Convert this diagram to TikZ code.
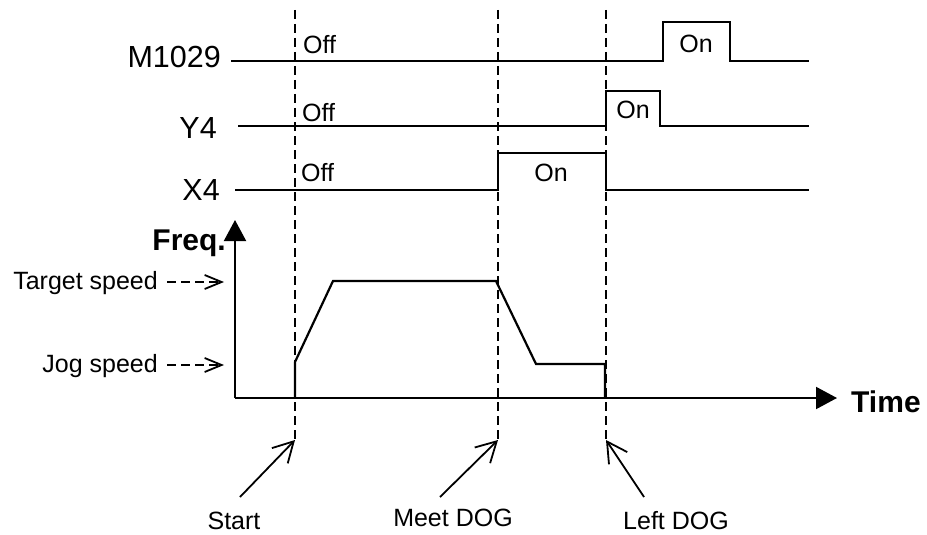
\documentclass[tikz,border=0pt]{standalone}
\usepackage{fontspec}
\setmainfont{Liberation Sans}
\usetikzlibrary{arrows.meta}
\begin{document}
\begin{tikzpicture}[x=1pt,y=-1pt,
  sig/.style={line width=2.2pt, line join=miter},
  guide/.style={line width=2pt, dash pattern=on 9pt off 5pt},
  namelbl/.style={font=\fontsize{30.5}{31}\selectfont, inner sep=0pt, anchor=east},
  txt/.style={font=\fontsize{25}{25}\selectfont, inner sep=0pt},
  boldlbl/.style={font=\bfseries\fontsize{30}{30}\selectfont, inner sep=0pt},
  axis/.style={line width=2pt, -{Triangle[length=21pt,width=22pt]}},
  pointer/.style={line width=1.8pt, -{Straight Barb[length=20pt,width=22pt]}},
  speedarrow/.style={line width=1.8pt, dash pattern=on 9pt off 5pt, -{Straight Barb[length=17pt,width=14pt]}}
]
\useasboundingbox (0,0) rectangle (927,535);

% ---------- signal names ----------
\node[namelbl] (mname) at (221,57) {M1029};
\node[namelbl] (yname) at (217,128) {Y4};
\node[namelbl] (xname) at (220,190) {X4};

% ---------- M1029 ----------
\coordinate (m0) at (231,61);
\coordinate (m1) at (663,61);
\coordinate (m2) at (663,22);
\coordinate (m3) at (730,22);
\coordinate (m4) at (730,61);
\coordinate (m5) at (809,61);
\draw[sig] (m0) -- (m1) -- (m2) -- (m3) -- (m4) -- (m5);
\node[txt, anchor=west] (moff) at (303,45) {Off};
\node[txt] (mon) at (696,44) {On};

% ---------- Y4 ----------
\coordinate (y0) at (238,126);
\coordinate (y1) at (606,126);
\coordinate (y2) at (606,91);
\coordinate (y3) at (660,91);
\coordinate (y4) at (660,126);
\coordinate (y5) at (809,126);
\draw[sig] (y0) -- (y1) -- (y2) -- (y3) -- (y4) -- (y5);
\node[txt, anchor=west] (yoff) at (302,113) {Off};
\node[txt] (yon) at (633,110) {On};

% ---------- X4 ----------
\coordinate (x0) at (235,190);
\coordinate (x1) at (498,190);
\coordinate (x2) at (498,153);
\coordinate (x3) at (606,153);
\coordinate (x4) at (606,190);
\coordinate (x5) at (809,190);
\draw[sig] (x0) -- (x1) -- (x2) -- (x3) -- (x4) -- (x5);
\node[txt, anchor=west] (xoff) at (301,173) {Off};
\node[txt] (xon) at (551,173) {On};

% ---------- axes ----------
\coordinate (O) at (235,398);
\coordinate (ftip) at (235,220);
\coordinate (ttip) at (837,398);
\draw[axis] (O) -- (ftip);
\draw[axis] (O) -- (ttip);
\node[boldlbl, anchor=east] (freq) at (226,243) {Freq.};
\node[boldlbl, anchor=west] (time) at (851,402) {Time};

% ---------- speed labels ----------
\node[txt, anchor=east] (target) at (158,283) {Target speed};
\node[txt, anchor=east] (jog) at (158,366) {Jog speed};
\coordinate (targettip) at (224,282);
\coordinate (jogtip) at (224,365);
\draw[speedarrow] ([xshift=9pt]target.east |- targettip) -- (targettip);
\draw[speedarrow] ([xshift=9pt]jog.east |- jogtip) -- (jogtip);

% ---------- frequency profile ----------
\coordinate (f0) at (295,398);
\coordinate (f1) at (295,362);
\coordinate (f2) at (333,281);
\coordinate (f3) at (496,281);
\coordinate (f4) at (536,364);
\coordinate (f5) at (605,364);
\coordinate (f6) at (605,398);
\draw[sig] (f0) -- (f1) -- (f2) -- (f3) -- (f4) -- (f5) -- (f6);

% ---------- event guides ----------
\coordinate (gStop) at (295,10);
\coordinate (gSbot) at (295,440);
\coordinate (gMtop) at (498,10);
\coordinate (gMbot) at (498,440);
\coordinate (gLtop) at (606,10);
\coordinate (gLbot) at (606,440);
\draw[guide] (gStop) -- (gSbot);
\draw[guide] (gMtop) -- (gMbot);
\draw[guide] (gLtop) -- (gLbot);

% ---------- event labels and pointers ----------
\node[txt] (start) at (234,521) {Start};
\node[txt] (meet) at (453,518) {Meet DOG};
\node[txt] (left) at (676,521) {Left DOG};
\coordinate (sTail) at (240,497);
\coordinate (mTail) at (440,497);
\coordinate (lTail) at (644,497);
\draw[pointer] (sTail) -- (gSbot);
\draw[pointer] (mTail) -- (gMbot);
\draw[pointer] (lTail) -- (gLbot);
\end{tikzpicture}
\end{document}
